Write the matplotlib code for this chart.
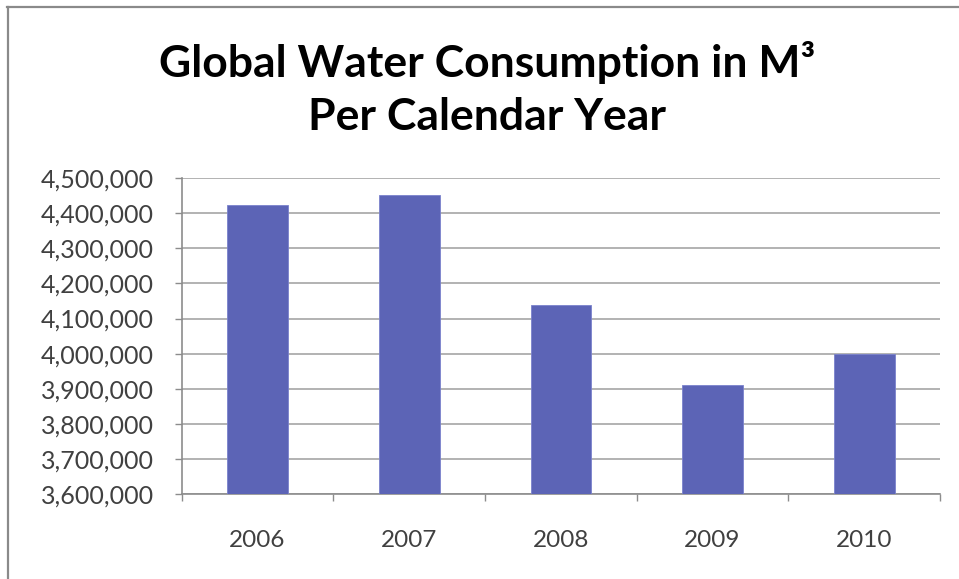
import matplotlib
matplotlib.use("Agg")
import matplotlib.pyplot as plt
from matplotlib.lines import Line2D
from matplotlib.ticker import FuncFormatter

years = ["2006", "2007", "2008", "2009", "2010"]
consumption = [4424000, 4452000, 4138000, 3911000, 3998000]
y_ticks = [3600000, 3700000, 3800000, 3900000, 4000000, 4100000, 4200000, 4300000, 4400000, 4500000]
title_line1 = "Global Water Consumption in M³"
title_line2 = "Per Calendar Year"

plt.rcParams['font.family'] = ['Lato', 'DejaVu Sans']

fig = plt.figure(figsize=(9.59, 5.79), dpi=100)
fig.patch.set_facecolor('white')
ax = fig.add_axes([181.7/959, 1-494.3/579, (940-181.7)/959, (494.3-178)/579])

x = list(range(len(years)))
ax.bar(x, consumption, width=0.4, color='#5C64B6', edgecolor='#7A82CC', linewidth=0.6, zorder=3)

ax.set_xlim(-0.5, len(years)-0.5)
ax.set_ylim(y_ticks[0], y_ticks[-1])
ax.set_yticks(y_ticks)
ax.yaxis.set_major_formatter(FuncFormatter(lambda v, p: f"{int(v):,}"))
ax.grid(axis='y', color='#A6A6A6', linewidth=1.2, zorder=0)
ax.set_axisbelow(True)

ax.set_xticks(x)
ax.set_xticklabels(years)
ax.set_xticks([i - 0.5 for i in range(len(years)+1)], minor=True)
ax.tick_params(axis='x', which='major', length=0, pad=26, labelsize=17.5, labelcolor='#404040')
ax.tick_params(axis='x', which='minor', length=5, width=1, color='#8C8C8C', direction='out')
ax.tick_params(axis='y', which='major', length=5, width=1, color='#8C8C8C', direction='out',
               labelsize=18, labelcolor='#404040', pad=15)

for s in ['top', 'right']:
    ax.spines[s].set_visible(False)
for s in ['left', 'bottom']:
    ax.spines[s].set_color('#8C8C8C')
    ax.spines[s].set_linewidth(1.2)

fig.text(487/959, 1-62/579, title_line1, ha='center', va='center', fontsize=32, fontweight='bold', color='black')
fig.text(487/959, 1-117/579, title_line2, ha='center', va='center', fontsize=32, fontweight='bold', color='black')

fig.add_artist(Line2D([7/959, 1], [1-7/579, 1-7/579], transform=fig.transFigure, color='#8A8A8A', linewidth=1.6))
fig.add_artist(Line2D([8/959, 8/959], [0, 1-7/579], transform=fig.transFigure, color='#8A8A8A', linewidth=1.6))

fig.savefig("out.png", dpi=100)
